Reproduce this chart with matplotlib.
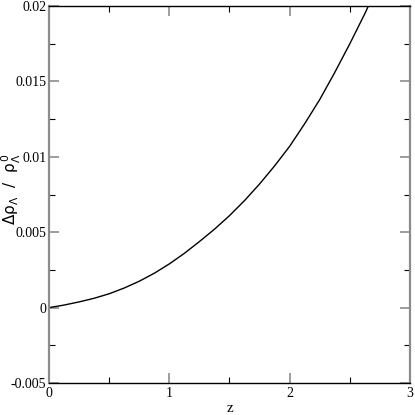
import matplotlib

matplotlib.use("Agg")
import matplotlib.pyplot as plt
from matplotlib.ticker import MultipleLocator

# values
z_values = [0.0, 0.125, 0.25, 0.375, 0.5, 0.625, 0.75, 0.875, 1.0, 1.125,
            1.25, 1.375, 1.5, 1.625, 1.75, 1.875, 2.0, 2.125, 2.25, 2.375,
            2.5, 2.625, 2.7]
drho_values = [0.0, 0.00017, 0.00038, 0.00062, 0.00092, 0.00130, 0.00175,
               0.00228, 0.0029, 0.0036, 0.00438, 0.0052, 0.0061, 0.0071,
               0.0082, 0.0094, 0.0107, 0.0122, 0.0138, 0.0156, 0.0175,
               0.0195, 0.0208]

x_ticks = [0, 1, 2, 3]
x_tick_labels = ["0", "1", "2", "3"]
y_ticks = [-0.005, 0.0, 0.005, 0.01, 0.015, 0.02]
y_tick_labels = ["-0.005", "0", "0.005", "0.01", "0.015", "0.02"]

SERIF = ["Liberation Serif", "DejaVu Serif"]


def build_png(output_path):
    fig = plt.figure(figsize=(4.15, 4.15), dpi=100)
    ax = fig.add_axes([0.118, 0.077, 0.870, 0.9085])

    ax.plot(z_values, drho_values, color="black", lw=1.0)

    ax.set_xlim(0, 3)
    ax.set_ylim(-0.005, 0.02)
    ax.set_xticks(x_ticks)
    ax.set_xticklabels(x_tick_labels, family=SERIF, fontsize=10)
    ax.set_yticks(y_ticks)
    ax.set_yticklabels(y_tick_labels, family=SERIF, fontsize=10)
    ax.xaxis.set_minor_locator(MultipleLocator(0.5))
    ax.yaxis.set_minor_locator(MultipleLocator(0.0025))

    ax.tick_params(which="both", direction="in", top=True, right=True)
    ax.tick_params(which="major", length=7, width=1.2, color="0.55")
    ax.tick_params(axis="x", which="major", pad=3)
    ax.tick_params(axis="y", which="major", pad=2)
    ax.tick_params(which="minor", length=4, width=0.8, color="black")

    for side in ("left", "right"):
        ax.spines[side].set_color("0.55")
        ax.spines[side].set_linewidth(1.6)
    for side in ("top", "bottom"):
        ax.spines[side].set_color("black")
        ax.spines[side].set_linewidth(1.0)

    ax.set_xlabel("z", family=SERIF, fontsize=11)
    ax.xaxis.set_label_coords(0.5, -0.05)
    ax.set_ylabel(r"$\Delta\rho_\Lambda\ \ /\ \ \rho_\Lambda^0$", fontsize=11)
    ax.yaxis.set_label_coords(-0.072, 0.515)

    fig.savefig(output_path, dpi=100)


def main():
    plt.rcParams["mathtext.fontset"] = "custom"
    plt.rcParams["mathtext.rm"] = "DejaVu Sans"
    plt.rcParams["mathtext.it"] = "DejaVu Sans"
    plt.rcParams["mathtext.bf"] = "DejaVu Sans:bold"
    build_png("out.png")


if __name__ == "__main__":
    main()
